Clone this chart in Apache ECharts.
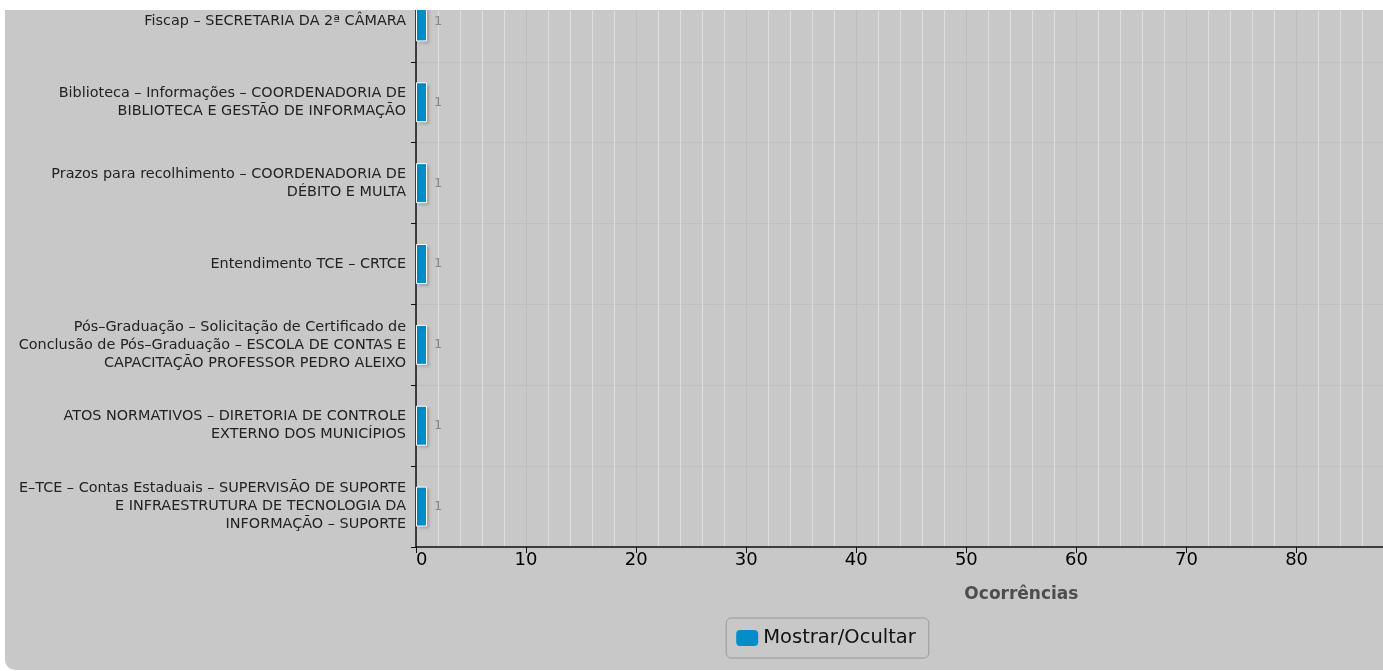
<!DOCTYPE html>
<html><head><meta charset="utf-8">
<script src="https://cdn.jsdelivr.net/npm/echarts@6/dist/echarts.min.js"></script>
<style>
html,body{margin:0;padding:0;background:#fff;overflow:hidden;width:1383px;height:671px;}
#panel{position:absolute;left:5px;top:10px;width:1642px;height:660px;overflow:hidden;background:#c8c8c8;border-radius:0 0 10px 10px;}
#chart{position:absolute;left:0;top:-29px;width:1642px;height:689px;}
</style></head>
<body><div id="panel"><div id="chart"></div></div>
<script>
const categories = [
  "Fiscap – SECRETARIA DA 2ª CÂMARA",
  "Biblioteca – Informações – COORDENADORIA DE\nBIBLIOTECA E GESTÃO DE INFORMAÇÃO",
  "Prazos para recolhimento – COORDENADORIA DE\nDÉBITO E MULTA",
  "Entendimento TCE – CRTCE",
  "Pós–Graduação – Solicitação de Certificado de\nConclusão de Pós–Graduação – ESCOLA DE CONTAS E\nCAPACITAÇÃO PROFESSOR PEDRO ALEIXO",
  "ATOS NORMATIVOS – DIRETORIA DE CONTROLE\nEXTERNO DOS MUNICÍPIOS",
  "E–TCE – Contas Estaduais – SUPERVISÃO DE SUPORTE\nE INFRAESTRUTURA DE TECNOLOGIA DA\nINFORMAÇÃO – SUPORTE"
];
const values = [1, 1, 1, 1, 1, 1, 1];
const seriesName = "Mostrar/Ocultar";
const xAxisTitle = "Ocorrências";
const xMin = 0, xMax = 110, xInterval = 10;

const FONT = "DejaVu Sans";
const chart = echarts.init(document.getElementById('chart'), null, {renderer: 'canvas'});
chart.setOption({
  backgroundColor: 'transparent',
  animation: false,
  textStyle: {fontFamily: FONT},
  grid: {left: 411, right: 13, top: 0, bottom: 123},
  legend: {
    top: 637, left: 'center',
    data: [seriesName],
    icon: 'roundRect',
    itemWidth: 22, itemHeight: 16,
    itemGap: 5,
    padding: [10, 13, 10, 10],
    itemStyle: {borderWidth: 0, shadowBlur: 0, shadowOffsetX: 0, shadowOffsetY: 0},
    borderColor: '#999', borderWidth: 1, borderRadius: 5,
    textStyle: {fontFamily: FONT, fontSize: 19.5, color: '#111', padding: [0, 0, 0, 0]}
  },
  xAxis: {
    type: 'value', min: xMin, max: xMax, interval: xInterval,
    name: xAxisTitle, nameLocation: 'middle', nameGap: 39,
    nameTextStyle: {fontFamily: FONT, fontSize: 17, fontWeight: 'bold', color: '#4d4d4d'},
    axisLine: {show: true, lineStyle: {color: '#111', width: 1.5}},
    axisTick: {show: true, length: 6, lineStyle: {color: '#111'}},
    axisLabel: {fontFamily: FONT, fontSize: 18, color: '#000', margin: 4, alignMinLabel: 'left'},
    splitLine: {show: true, lineStyle: {color: '#bdbdbd', width: 1}},
    minorTick: {show: false, splitNumber: 5},
    minorSplitLine: {show: true, lineStyle: {color: '#dedede', width: 1}}
  },
  yAxis: {
    type: 'category', inverse: true, data: categories,
    axisLine: {show: true, lineStyle: {color: '#111', width: 1.5}},
    axisTick: {show: true, length: 5, lineStyle: {color: '#111'}},
    axisLabel: {fontFamily: FONT, fontSize: 14.4, color: '#222', margin: 10, lineHeight: 18, align: 'right'},
    splitLine: {show: true, lineStyle: {color: '#bfbfbf', width: 1}}
  },
  series: [{
    name: seriesName, type: 'bar', data: values,
    barWidth: 40,
    itemStyle: {
      color: '#058DC7', borderColor: '#ffffff', borderWidth: 1,
      shadowColor: 'rgba(0,0,0,0.18)', shadowBlur: 3, shadowOffsetX: 2, shadowOffsetY: 2
    },
    label: {show: true, position: 'right', distance: 7, fontFamily: FONT, fontSize: 13, color: '#888'}
  }]
});
</script>
</body></html>
